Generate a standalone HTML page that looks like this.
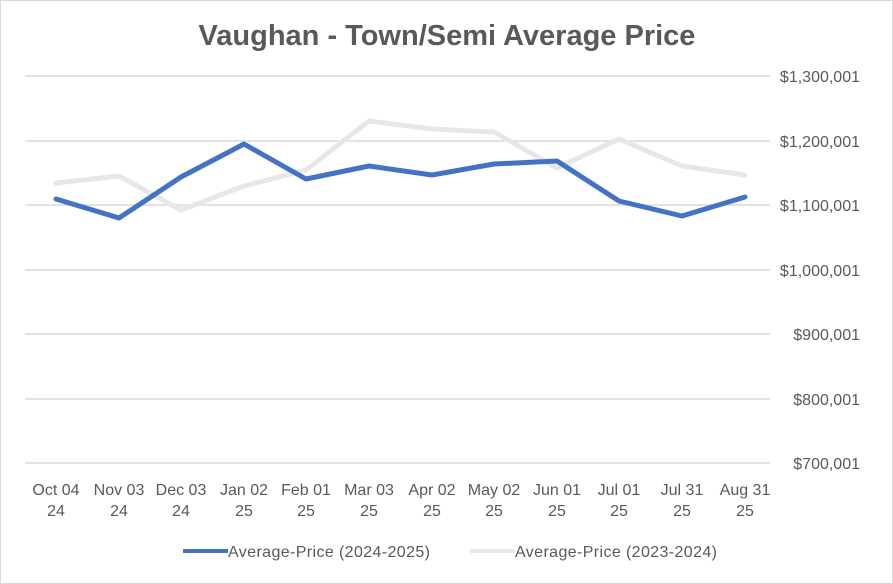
<!DOCTYPE html>
<html><head><style>
body{margin:0;background:#fff;}
svg{display:block;font-family:"Liberation Sans",sans-serif;}
</style></head><body>
<svg width="893" height="584" viewBox="0 0 893 584">
<rect x="0.5" y="0.5" width="892" height="583" fill="#fff" stroke="#d9d9d9"/>
<text x="447" y="45" text-anchor="middle" font-size="29" font-weight="bold" fill="#595959">Vaughan - Town/Semi Average Price</text>
<g stroke="#d9d9d9" stroke-width="1.5">
<line x1="25" x2="770" y1="76" y2="76"/><line x1="25" x2="770" y1="141" y2="141"/>
<line x1="25" x2="770" y1="205" y2="205"/><line x1="25" x2="770" y1="270" y2="270"/>
<line x1="25" x2="770" y1="334" y2="334"/><line x1="25" x2="770" y1="399" y2="399"/>
<line x1="25" x2="770" y1="463" y2="463"/>
</g>
<g font-size="16" fill="#595959" text-anchor="end">
<text x="860" y="82">$1,300,001</text><text x="860" y="147">$1,200,001</text>
<text x="860" y="211">$1,100,001</text><text x="860" y="276">$1,000,001</text>
<text x="860" y="340">$900,001</text><text x="860" y="405">$800,001</text>
<text x="860" y="469">$700,001</text>
</g>
<g font-size="16" fill="#595959" text-anchor="middle">
<text x="56" y="495">Oct 04</text><text x="56" y="516">24</text>
<text x="119" y="495">Nov 03</text><text x="119" y="516">24</text>
<text x="181" y="495">Dec 03</text><text x="181" y="516">24</text>
<text x="244" y="495">Jan 02</text><text x="244" y="516">25</text>
<text x="306" y="495">Feb 01</text><text x="306" y="516">25</text>
<text x="369" y="495">Mar 03</text><text x="369" y="516">25</text>
<text x="432" y="495">Apr 02</text><text x="432" y="516">25</text>
<text x="494" y="495">May 02</text><text x="494" y="516">25</text>
<text x="557" y="495">Jun 01</text><text x="557" y="516">25</text>
<text x="619" y="495">Jul 01</text><text x="619" y="516">25</text>
<text x="682" y="495">Jul 31</text><text x="682" y="516">25</text>
<text x="745" y="495">Aug 31</text><text x="745" y="516">25</text>
</g>
<polyline fill="none" stroke="#e7e7e7" stroke-width="5" stroke-linecap="round" stroke-linejoin="round"
points="56,183 119,176 181,210 244,186 306,170 369,121 432,129 494,132 557,168 619,139 682,166 745,175"/>
<polyline fill="none" stroke="#4472c4" stroke-width="5" stroke-linecap="round" stroke-linejoin="round"
points="56,199 119,218 181,177 244,144 306,179 369,166 432,175 494,164 557,161 619,201 682,216 745,197"/>
<line x1="183" x2="228" y1="551" y2="551" stroke="#4472c4" stroke-width="4"/>
<text x="228" y="557" font-size="16" fill="#595959" textLength="202">Average-Price (2024-2025)</text>
<line x1="470" x2="515" y1="551" y2="551" stroke="#e7e7e7" stroke-width="4"/>
<text x="515" y="557" font-size="16" fill="#595959" textLength="202">Average-Price (2023-2024)</text>
</svg>
</body></html>
